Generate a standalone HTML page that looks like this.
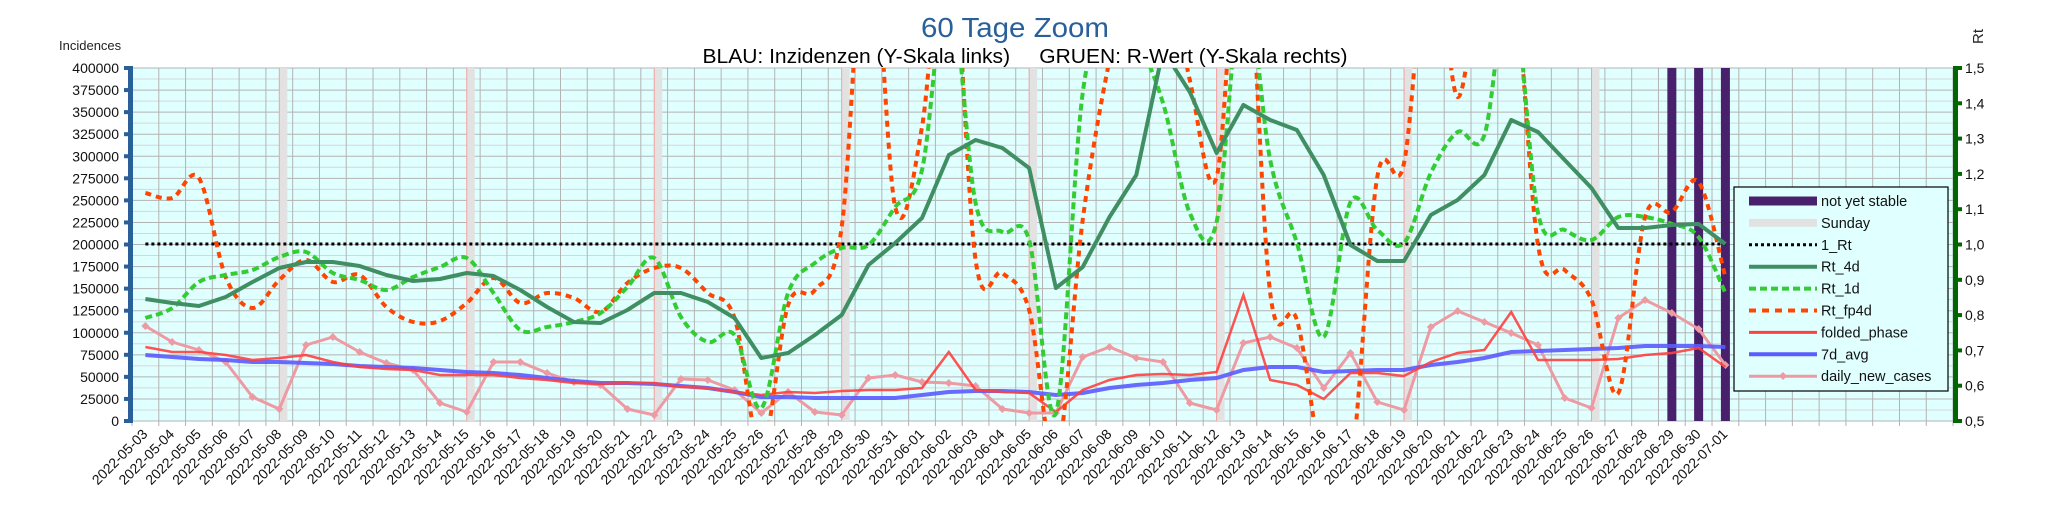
<!DOCTYPE html>
<html><head><meta charset="utf-8"><style>
html,body{margin:0;padding:0;background:#fff;}
svg{display:block;font-family:"Liberation Sans",sans-serif;}
</style></head><body>
<svg id="s" width="2048" height="527" viewBox="0 0 2048 527" xmlns="http://www.w3.org/2000/svg">
<rect width="2048" height="527" fill="#fff"/>
<text x="1015" y="37" font-size="28" fill="#2a6099" text-anchor="middle" textLength="188" lengthAdjust="spacingAndGlyphs">60 Tage Zoom</text>
<text x="1025" y="63" font-size="20" fill="#000" text-anchor="middle" textLength="645" lengthAdjust="spacingAndGlyphs" xml:space="preserve">BLAU: Inzidenzen (Y-Skala links)     GRUEN: R-Wert (Y-Skala rechts)</text>
<text x="59" y="50" font-size="13" fill="#222">Incidences</text>
<text transform="translate(1983,44) rotate(-90)" font-size="15" fill="#222">Rt</text>
<g id="g"></g>
</svg>
<script>
var NS="http://www.w3.org/2000/svg",G=document.getElementById('g');
function el(t,a,txt){var e=document.createElementNS(NS,t);for(var k in a)e.setAttribute(k,a[k]);if(txt!=null)e.textContent=txt;G.appendChild(e);return e;}
var L=132,R=1953,T=68,B=421,W=26.78;
function cx(i){return L+W*(i+0.5);}
el('rect',{x:L,y:T,width:R-L,height:B-T,fill:'#e0ffff'});
for(var k=0;k<=32;k++){var y=T+k*(B-T)/32;el('line',{x1:L,x2:R,y1:y,y2:y,stroke:k%2?'#d6d6d6':'#b3b3b3','stroke-width':1});}
[5,12,19,26,33,40,47,54].forEach(function(i){var x=cx(i);el('rect',{x:x,y:T,width:8,height:B-T,fill:'#e2e2e2'});el('line',{x1:x,x2:x,y1:T,y2:B,stroke:'#f3a0a0','stroke-width':1});});
for(var i=0;i<=68;i++){var x=L+i*W;el('line',{x1:x,x2:x,y1:T,y2:B+5,stroke:'#b3b3b3','stroke-width':1});}
[57,58,59].forEach(function(i){el('rect',{x:cx(i)-4.5,y:T,width:9,height:B-T,fill:'#48206c'});});
el('rect',{x:128,y:T-2,width:5,height:B-T+4,fill:'#2a6099'});
for(var k=0;k<=16;k++){var y=T+k*(B-T)/16;el('rect',{x:124,y:y-2,width:8,height:4,fill:'#2a6099'});
 el('text',{x:119,y:y+5,'font-size':14,'text-anchor':'end',fill:'#111'},String(400000-k*25000));}
el('rect',{x:1953,y:T-2,width:5,height:B-T+4,fill:'#006600'});
for(var k=0;k<=10;k++){var y=T+k*(B-T)/10;el('rect',{x:1953,y:y-2,width:9,height:4,fill:'#006600'});
 el('text',{x:1965,y:y+5,'font-size':14,fill:'#111'},(1.5-k*0.1).toFixed(1).replace('.',','));}
var d0=new Date(Date.UTC(2022,4,3));
for(var i=0;i<60;i++){var d=new Date(d0.getTime()+i*864e5);var s=d.toISOString().slice(0,10);var x=cx(i)+3,y=435;
 el('text',{x:x,y:y,'font-size':14,'text-anchor':'end',fill:'#111',transform:'rotate(-45 '+x+' '+y+')'},s);}
var cp=document.createElementNS(NS,'clipPath');cp.setAttribute('id','c');var cr=document.createElementNS(NS,'rect');
cr.setAttribute('x',L);cr.setAttribute('y',T);cr.setAttribute('width',R-L);cr.setAttribute('height',B-T);cp.appendChild(cr);G.appendChild(cp);
function poly(ys){return ys.map(function(y,i){return (i?'L':'M')+cx(i).toFixed(1)+' '+y;}).join(' ');}
function smooth(ys){var p=ys.map(function(y,i){return[cx(i),y];});var d='M'+p[0][0]+' '+p[0][1];
 for(var i=0;i<p.length-1;i++){var p0=p[i-1]||p[i],p1=p[i],p2=p[i+1],p3=p[i+2]||p2;
  d+=' C'+(p1[0]+(p2[0]-p0[0])/6).toFixed(1)+' '+(p1[1]+(p2[1]-p0[1])/6).toFixed(1)+' '+(p2[0]-(p3[0]-p1[0])/6).toFixed(1)+' '+(p2[1]-(p3[1]-p1[1])/6).toFixed(1)+' '+p2[0].toFixed(1)+' '+p2[1];}
 return d;}
var rt4=[299,303,306,297,282,268,262,262,266,275,281,279,273,276,290,307,322,323,310,293,293,302,318,358,353,335,315,265,243,218,155,140,148,168,288,267,217,175,50,92,153,105,120,130,175,245,261,261,215,200,175,120,132,160,188,228,228,225,224,244];
var rt1=[318,308,282,275,270,257,252,273,280,290,277,267,258,293,330,327,322,313,287,258,317,342,335,408,293,263,248,245,207,170,-20,203,232,240,413,93,20,40,103,213,222,-20,160,243,337,202,230,243,173,132,135,-20,213,230,240,217,217,224,237,293];
var fp=[193,198,178,277,308,280,260,282,275,307,322,321,303,278,303,293,298,312,283,268,268,293,318,450,305,290,227,-100,207,127,-100,260,273,310,460,220,60,-50,-50,80,177,-100,293,320,470,470,177,163,-80,97,-60,-60,245,270,300,393,217,212,182,277];
var fold=[347,352,352,355,360,358,355,362,367,369,370,375,375,375,378,380,383,384,383,383,387,388,392,395,392,393,391,390,390,388,352,390,392,393,412,390,380,375,374,375,372,295,380,385,399,373,373,376,362,353,350,312,360,360,360,359,355,353,348,367];
var avg=[355,357,359,360,362,362,363,364,366,367,368,370,372,373,375,378,381,383,383,384,386,388,392,397,397,398,398,398,398,395,392,391,391,392,395,393,388,385,383,380,378,370,367,367,372,371,370,370,365,362,358,352,351,350,349,348,346,346,346,347];
var dn=[326,342,350,362,397,409,345,337,352,363,370,403,412,362,362,373,382,385,409,415,379,380,390,413,392,412,415,378,375,382,383,386,409,413,413,357,347,358,362,403,410,343,337,348,388,353,402,410,327,311,322,333,345,398,408,318,300,313,329,365];
var cg=document.createElementNS(NS,'g');cg.setAttribute('clip-path','url(#c)');G.appendChild(cg);
function pth(d,a){var e=document.createElementNS(NS,'path');e.setAttribute('d',d);e.setAttribute('fill','none');for(var k in a)e.setAttribute(k,a[k]);cg.appendChild(e);}
pth('M'+cx(0)+' 244 L'+cx(59)+' 244',{stroke:'#000','stroke-width':3,'stroke-dasharray':'3 3'});
pth(poly(dn),{stroke:'#ee9aa3','stroke-width':3,'stroke-linejoin':'round'});
dn.forEach(function(y,i){var x=cx(i);var e=document.createElementNS(NS,'path');e.setAttribute('d','M'+(x-4)+' '+y+' L'+x+' '+(y-4)+' L'+(x+4)+' '+y+' L'+x+' '+(y+4)+'Z');e.setAttribute('fill','#ee9aa3');cg.appendChild(e);});
pth(poly(avg),{stroke:'#5b5bff','stroke-width':4,'stroke-opacity':0.9});
pth(poly(fold),{stroke:'#ff4040','stroke-width':2.5,'stroke-opacity':0.9});
pth(smooth(fp),{stroke:'#ff4500','stroke-width':4,'stroke-dasharray':'6 5'});
pth(smooth(rt1),{stroke:'#33cc33','stroke-width':4,'stroke-dasharray':'7 4'});
pth(poly(rt4),{stroke:'#3f8f63','stroke-width':4,'stroke-linejoin':'round'});
el('rect',{x:1734,y:187,width:214,height:204,fill:'#e0ffff',stroke:'#000','stroke-width':1.2});
var items=[['not yet stable',{stroke:'#48206c','stroke-width':9}],['Sunday',{stroke:'#e2e2e2','stroke-width':8}],['1_Rt',{stroke:'#000','stroke-width':3,'stroke-dasharray':'3 3'}],['Rt_4d',{stroke:'#3f8f63','stroke-width':4}],['Rt_1d',{stroke:'#33cc33','stroke-width':4,'stroke-dasharray':'7 4'}],['Rt_fp4d',{stroke:'#ff4500','stroke-width':4,'stroke-dasharray':'7 6'}],['folded_phase',{stroke:'#ff4040','stroke-width':3}],['7d_avg',{stroke:'#5b5bff','stroke-width':4}],['daily_new_cases',{stroke:'#ee9aa3','stroke-width':3}]];
items.forEach(function(it,j){var y=201+j*21.9;var a=it[1];a.x1=1749;a.x2=1817;a.y1=y;a.y2=y;el('line',a);
 el('text',{x:1821,y:y+5,'font-size':14.5,fill:'#111'},it[0]);});
el('path',{d:'M1779 376 L1783 372 L1787 376 L1783 380Z',fill:'#ee9aa3'});
</script>
</body></html>
